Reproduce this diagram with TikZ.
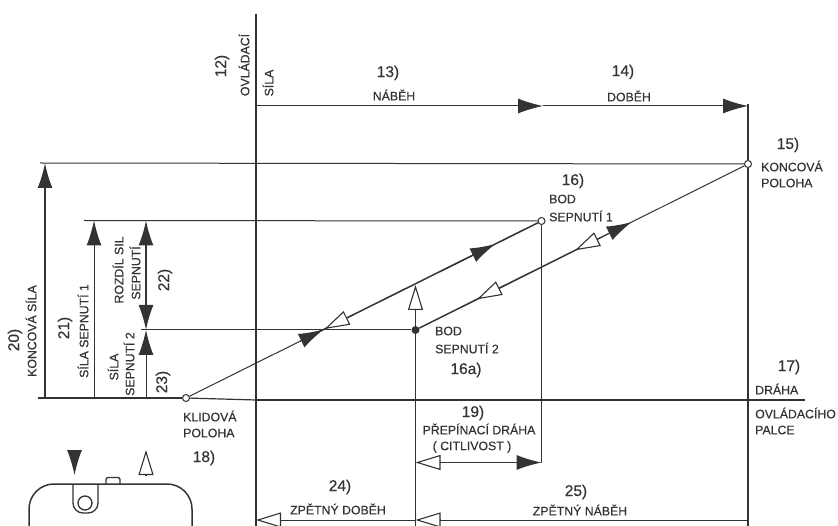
\documentclass[tikz,border=0pt]{standalone}
\usepackage{fontspec}
\setmainfont{Liberation Sans}[FakeBold=0.35]
\usetikzlibrary{arrows.meta,calc}
\definecolor{ink}{gray}{0.2}
\begin{document}
\begin{tikzpicture}[x=1pt,y=-1pt,>={Latex[length=25pt,width=15pt]},
    every node/.style={text=ink,inner sep=0pt},
    thin line/.style={draw=ink,line width=1pt},
    mid line/.style={draw=ink,line width=1.5pt},
    axis line/.style={draw=ink,line width=2.6pt},
    hollow/.style={draw=ink,line width=1.1pt,{Triangle[open,fill=white,length=25pt,width=15pt]}-},
    hollowend/.style={draw=ink,line width=1.1pt,-{Triangle[open,fill=white,length=25pt,width=15pt]}},
    opendot/.style={circle,draw=ink,fill=white,line width=1pt,minimum size=7pt},
    fulldot/.style={circle,fill=ink,minimum size=8pt},
    lab/.style={font=\fontsize{12.3}{12.3}\selectfont},
    num/.style={font=\fontsize{15.5}{15.5}\selectfont},
    vert/.style={rotate=90}]
  \useasboundingbox (0,0) rectangle (838,526);
  \coordinate (ytop) at (256,14);
  \coordinate (ybot) at (256,526);
  \coordinate (orgn) at (256,400);
  \coordinate (xleft) at (38,398);
  \coordinate (xright) at (805,400);
  \node[opendot] (rest) at (186,398) {};
  \node[opendot] (endp) at (748,164) {};
  \node[opendot] (sw1) at (541.5,221) {};
  \node[fulldot] (sw2) at (415.5,330) {};
  % osy a vodici cary
  \draw[axis line] (ytop)--(orgn);
  \draw[axis line,line width=1.7pt] (orgn)--(ybot);
  \draw[axis line] (orgn)--(xright);
  \draw[mid line,line width=1.2pt] (xleft)--(rest);
  \draw[mid line,line width=1.2pt] (rest)--(orgn);
  \draw[thin line] (40,163)--(endp);
  \draw[thin line] (84,220.5)--(sw1);
  \draw[thin line] (141,330)--(sw2);
  \draw[mid line] (748,104)--(endp);
  \draw[mid line] (endp)--(748,526);
  \draw[thin line] (sw1)--(541.5,463);
  \draw[thin line] (415.5,310)--(sw2);
  \draw[thin line] (sw2)--(415.5,526);
  % sikme cary
  \draw[thin line] (rest)--($(rest)!.33!(sw1)$);
  \draw[mid line] ($(rest)!.33!(sw1)$)--(sw1);
  \draw[mid line] (sw2)--($(sw2)!.55!(endp)$);
  \draw[thin line] ($(sw2)!.55!(endp)$)--(endp);
  \foreach \a/\b in {.32/.387,.72/.87}
    \draw[->,thin line] ($(rest)!\a!(sw1)$)--($(rest)!\b!(sw1)$);
  \draw[->,thin line] ($(sw2)!.55!(endp)$)--($(sw2)!.65!(endp)$);
  \draw[hollow] ($(rest)!.39!(sw1)$)--($(rest)!.47!(sw1)$);
  \draw[hollow] ($(sw2)!.185!(endp)$)--($(sw2)!.27!(endp)$);
  \draw[hollow] ($(sw2)!.48!(endp)$)--($(sw2)!.56!(endp)$);
  \draw[hollowend] (415.5,312)--(415.5,285);
  % svisle sipky vlevo
  \draw[->,axis line,line width=1.7pt] (45,398)--(45,163);
  \draw[->,thin line] (94,398)--(94,220.5);
  \draw[<->,mid line] (146,330)--(146,220.5);
  \draw[->,thin line] (146,398)--(146,330);
  % vodorovne sipky
  \draw[->,thin line] (256,106)--(543,106);
  \draw[->,thin line] (543,106)--(748,106);
  \draw[mid line] (438,462.5)--(516,462.5);
  \draw[->,thin line] (480,462.5)--(541.5,462.5);
  \draw[hollow] (415.5,462.5)--(440,462.5);
  \draw[thin line] (440,520)--(748,520);
  \draw[thin line] (280,520)--(415.5,520);
  \draw[hollow] (415.5,520)--(440,520);
  \draw[hollow] (256,520)--(280,520);
  % spinac
  \draw[axis line,line width=1.5pt,rounded corners=25pt] (29,530)--(29,484)--(192,484)--(192,530);
  \draw[axis line,line width=1.3pt,rounded corners=10pt] (73,484)--(73,513)--(98,513)--(98,484);
  \node[circle,draw=ink,line width=1.3pt,minimum size=14pt] (roller) at (85,503) {};
  \draw[axis line,line width=1.3pt,rounded corners=2pt] (106,484)--(106,477.5)--(120,477.5)--(120,484);
  \coordinate (fulltop) at (74.5,451);
  \coordinate (opentop) at (146,475);
  \draw[->,thin line] (fulltop)--(74.5,475);
  \draw[hollowend] (opentop)--(146,450);
  % popisy
  \node[num,vert] (n12) at (222,66) {12)};
  \node[lab,vert] (l12a) at (244,65) {OVLÁDACÍ};
  \node[lab,vert] (l12b) at (268,83) {SÍLA};
  \node[num] (n13) at (388,73) {13)};
  \node[lab] (l13) at (394,95) {NÁBĚH};
  \node[num] (n14) at (623,72) {14)};
  \node[lab] (l14) at (629,96) {DOBĚH};
  \node[num] (n15) at (788,145) {15)};
  \node[lab,anchor=west] (l15a) at (761,166) {KONCOVÁ};
  \node[lab,anchor=west] (l15b) at (761,183) {POLOHA};
  \node[num] (n16) at (573,181) {16)};
  \node[lab,anchor=west] (l16a) at (549,199) {BOD};
  \node[lab,anchor=west] (l16b) at (549,216) {SEPNUTÍ 1};
  \node[lab,anchor=west] (l16c) at (435,331) {BOD};
  \node[lab,anchor=west] (l16d) at (435,348) {SEPNUTÍ 2};
  \node[num] (n16a) at (466,370) {16a)};
  \node[num] (n17) at (789,367) {17)};
  \node[lab,anchor=west] (l17a) at (755,389) {DRÁHA};
  \node[lab,anchor=west] (l17b) at (755,413) {OVLÁDACÍHO};
  \node[lab,anchor=west] (l17c) at (755,430) {PALCE};
  \node[lab,anchor=west] (l18a) at (183,416) {KLIDOVÁ};
  \node[lab,anchor=west] (l18b) at (183,433) {POLOHA};
  \node[num] (n18) at (204,458) {18)};
  \node[num] (n19) at (473,413) {19)};
  \node[lab] (l19a) at (479,429) {PŘEPÍNACÍ DRÁHA};
  \node[lab] (l19b) at (472,447) {( CITLIVOST )};
  \node[num,vert] (n20) at (15,340) {20)};
  \node[lab,vert] (l20) at (31,331) {KONCOVÁ SÍLA};
  \node[num,vert] (n21) at (65,328) {21)};
  \node[lab,vert] (l21) at (83,331) {SÍLA SEPNUTÍ 1};
  \node[lab,vert] (l22a) at (118,270) {ROZDÍL SIL};
  \node[lab,vert] (l22b) at (135,273) {SEPNUTÍ};
  \node[num,vert] (n22) at (165,280) {22)};
  \node[lab,vert] (l23a) at (113,367) {SÍLA};
  \node[lab,vert] (l23b) at (129,364) {SEPNUTÍ 2};
  \node[num,vert] (n23) at (163,382) {23)};
  \node[num] (n24) at (340,487) {24)};
  \node[lab] (l24) at (338,509) {ZPĚTNÝ DOBĚH};
  \node[num] (n25) at (576,492) {25)};
  \node[lab] (l25) at (580,510) {ZPĚTNÝ NÁBĚH};
\end{tikzpicture}
\end{document}
